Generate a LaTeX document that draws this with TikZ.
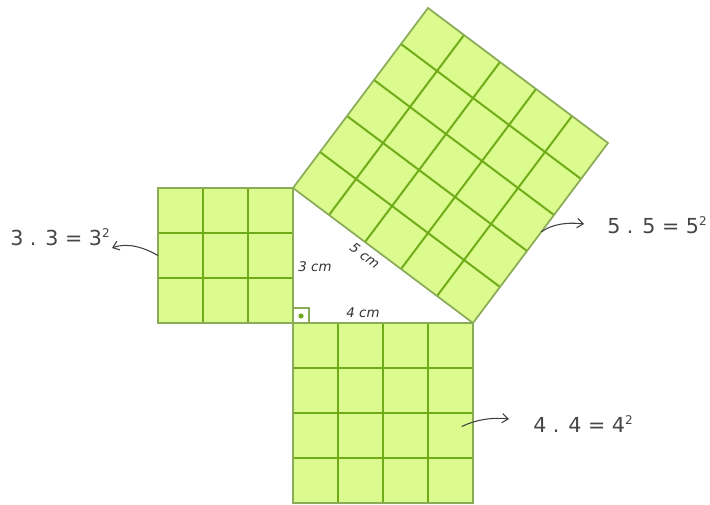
\documentclass[tikz,border=0pt]{standalone}
\usepackage{fontspec}
\setmainfont{DejaVu Sans}
\usetikzlibrary{arrows.meta}
\definecolor{sqfill}{RGB}{219,251,143}
\definecolor{sqgrid}{RGB}{112,172,24}
\definecolor{sqedge}{RGB}{138,172,88}
\definecolor{txt}{RGB}{70,70,70}
\newcommand{\sqr}{\raisebox{0.75ex}{\fontsize{9}{9}\selectfont 2}}
\tikzset{
  sqbox/.style={fill=sqfill,draw=sqedge,line width=1.3pt},
  gridln/.style={draw=sqgrid,line width=1.5pt},
  eqlabel/.style={text=txt,font=\fontsize{15.5}{15.5}\selectfont,anchor=base west,inner sep=0pt},
  cmlabel/.style={text=black!80,font=\fontsize{10}{10}\selectfont\itshape,inner sep=0pt},
  pointer/.style={draw=black!75,line width=0.8pt,-{Straight Barb[length=4.5pt,width=7pt]}}
}
\begin{document}
\begin{tikzpicture}[x=0.75pt,y=-0.75pt]
\useasboundingbox (0,0) rectangle (710,505);
% square on 3
\begin{scope}[shift={(158,188)},x={(45,0)},y={(0,45)}]
  \fill[sqfill] (0,0) rectangle (3,3);
  \foreach \i in {1,2} {\draw[gridln] (\i,0) -- (\i,3); \draw[gridln] (0,\i) -- (3,\i);}
  \draw[sqbox,fill=none] (0,0) rectangle (3,3);
  \coordinate (L) at (0,1.5);
\end{scope}
% square on 4
\begin{scope}[shift={(293,323)},x={(45,0)},y={(0,45)}]
  \fill[sqfill] (0,0) rectangle (4,4);
  \foreach \i in {1,2,3} {\draw[gridln] (\i,0) -- (\i,4); \draw[gridln] (0,\i) -- (4,\i);}
  \draw[sqbox,fill=none] (0,0) rectangle (4,4);
  \coordinate (F) at (3.75,2.3);
\end{scope}
% square on 5
\begin{scope}[shift={(293,188)},x={(27pt,-20.25pt)},y={(20.25pt,27pt)}]
  \fill[sqfill] (0,0) -- (5,0) -- (5,5) -- (0,5) -- cycle;
  \foreach \i in {1,2,3,4} {\draw[gridln] (\i,0) -- (\i,5); \draw[gridln] (0,\i) -- (5,\i);}
  \draw[sqbox,fill=none] (0,0) -- (5,0) -- (5,5) -- (0,5) -- cycle;
  \coordinate (R) at (5,2.53);
\end{scope}
% right angle mark
\draw[draw=sqedge,line width=1pt] (293,308) rectangle (309,323);
\fill[sqgrid] (301,316) circle (2.6);
% side labels
\node[cmlabel] (s3) at (315,267) {3 cm};
\node[cmlabel,rotate=-36.87] (s5) at (365,256) {5 cm};
\node[cmlabel] (s4) at (363,313) {4 cm};
% equations
\node[eqlabel] (e3) at (10,246) {3 . 3 = 3\sqr};
\node[eqlabel] (e5) at (607,234) {5 . 5 = 5\sqr};
\node[eqlabel] (e4) at (533,433) {4 . 4 = 4\sqr};
% pointers
\coordinate (t3) at (112,248);
\coordinate (t5) at (584,224);
\coordinate (t4) at (509,419);
\draw[pointer] (L) .. controls (145,248) and (128,242) .. (t3);
\draw[pointer] (R) .. controls (552,224) and (568,222) .. (t5);
\draw[pointer] (F) .. controls (475,420) and (492,417) .. (t4);
\end{tikzpicture}
\end{document}
